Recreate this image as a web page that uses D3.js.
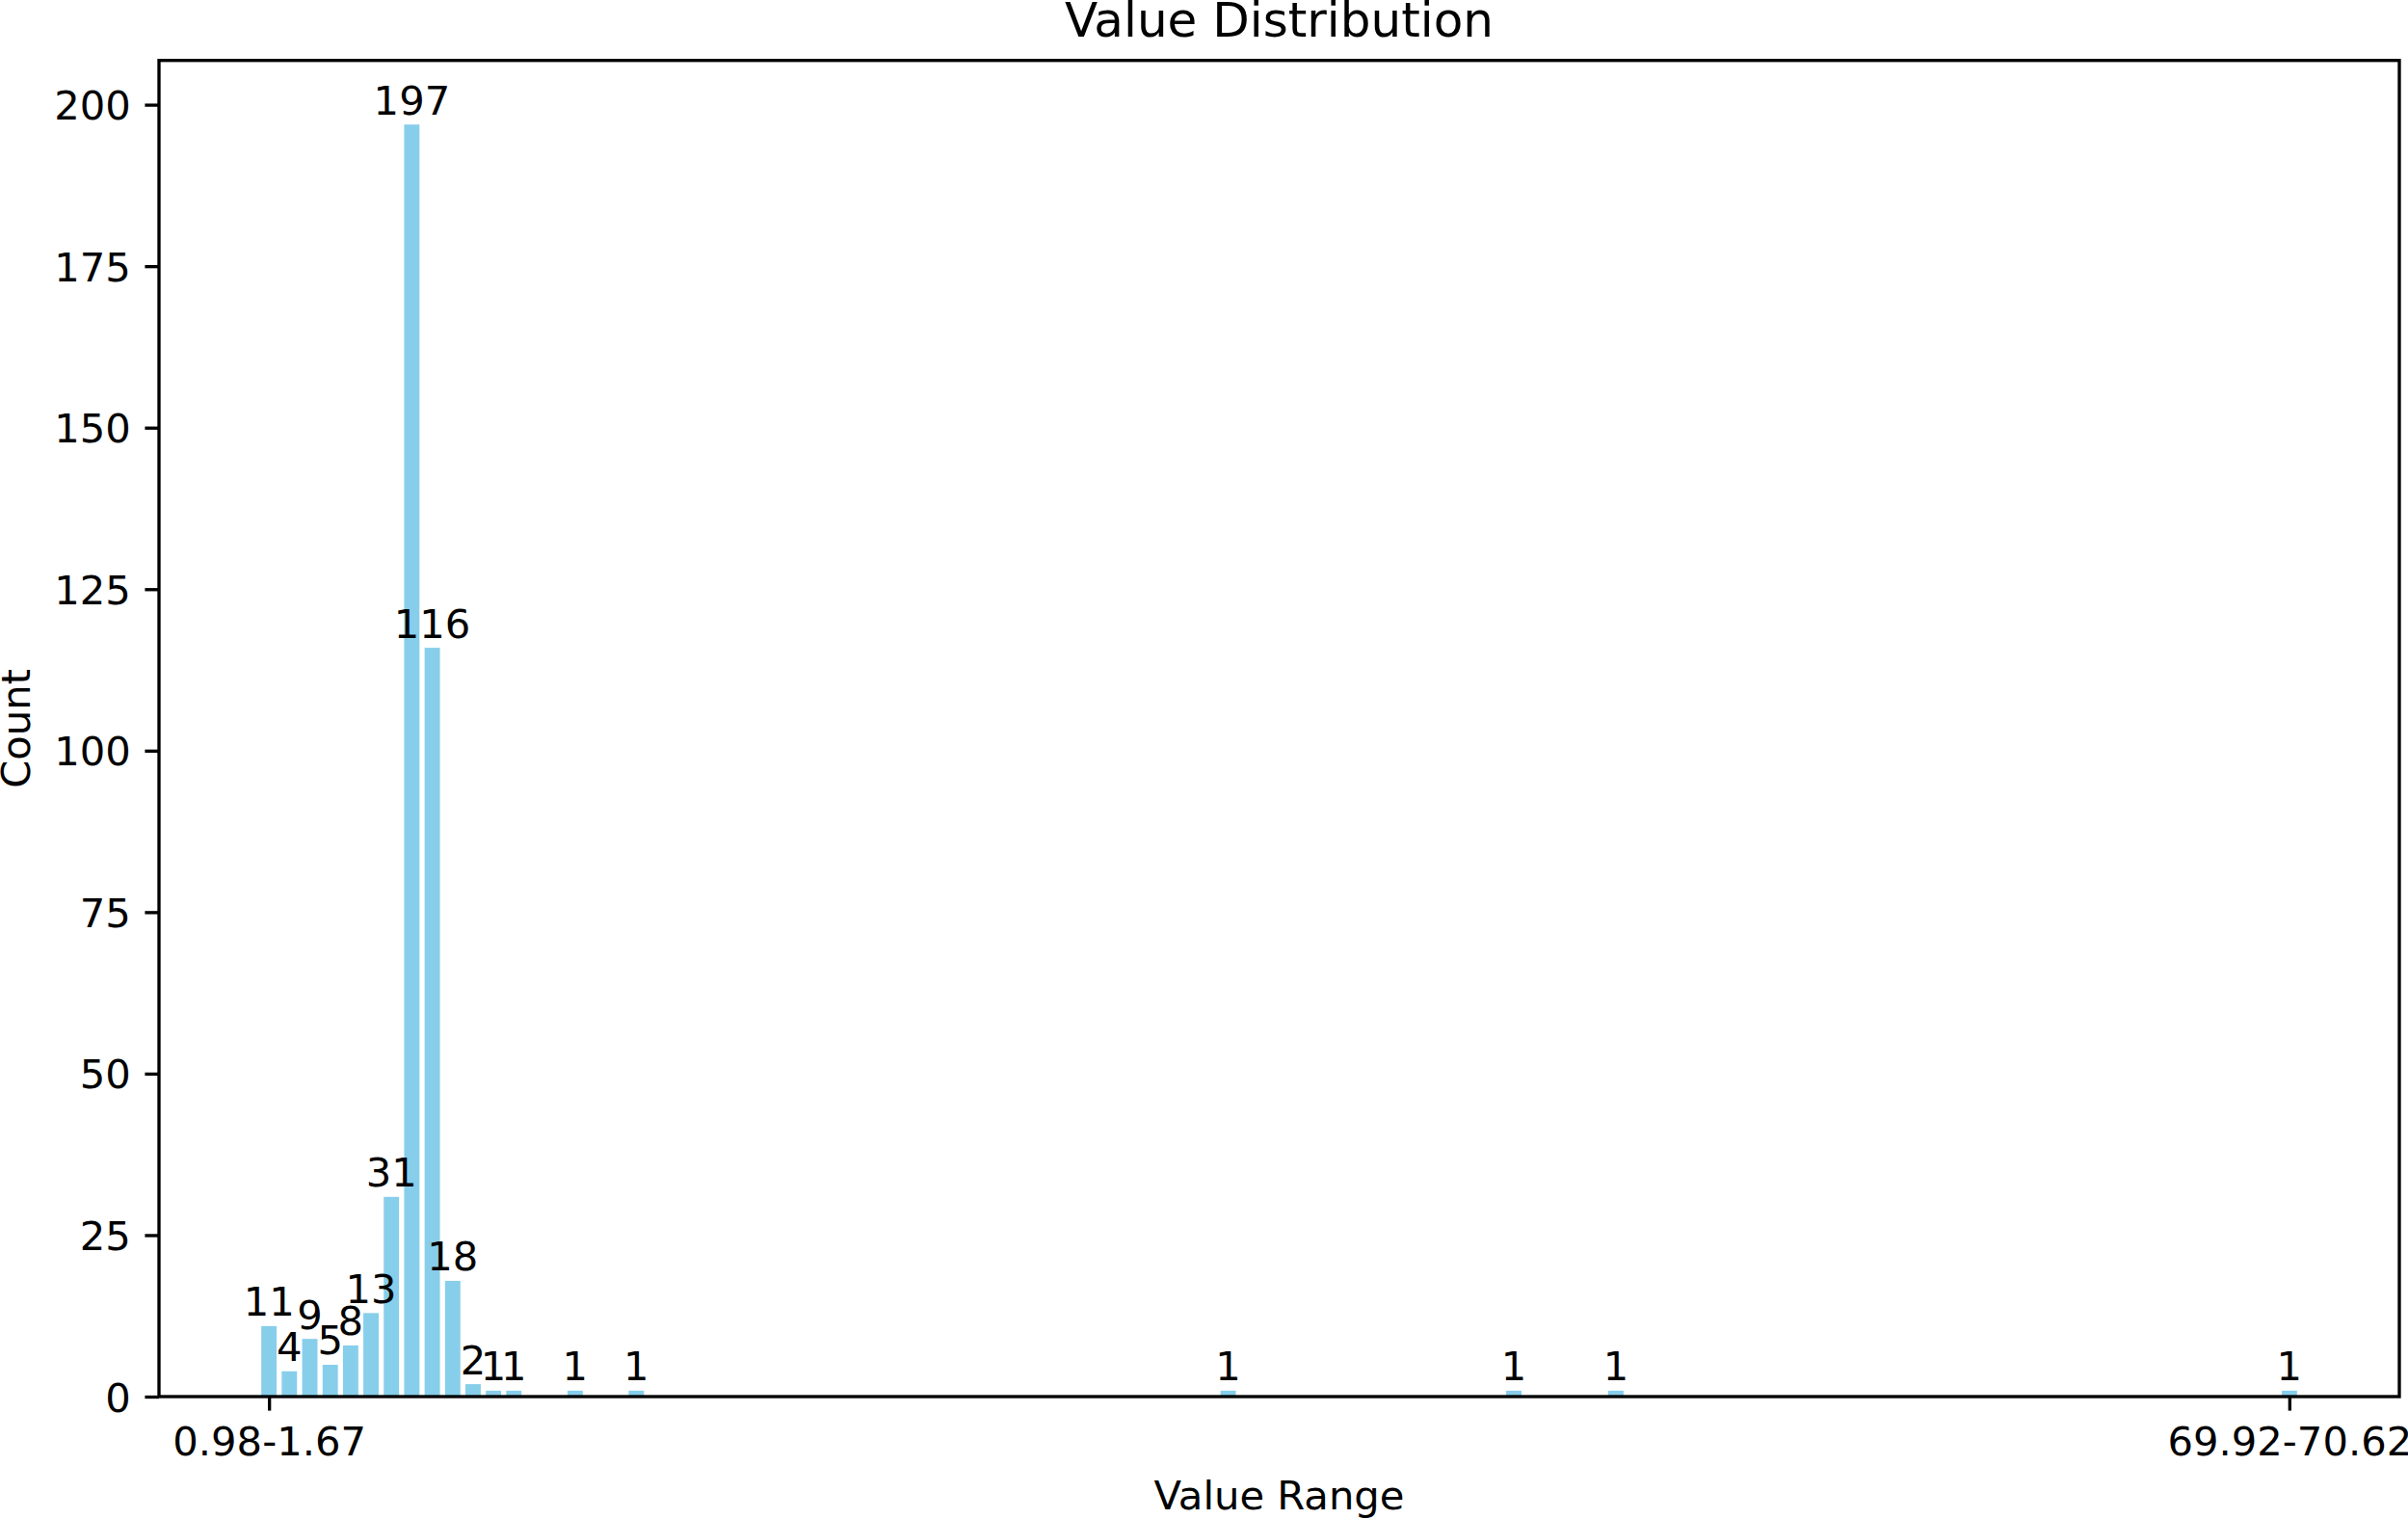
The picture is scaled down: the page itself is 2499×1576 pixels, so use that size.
<!DOCTYPE html>
<html>
<head>
<meta charset="utf-8">
<script src="https://cdn.jsdelivr.net/npm/d3@7"></script>
<style>
  html, body { margin: 0; padding: 0; background: #fff; }
  svg { display: block; font-family: "DejaVu Sans", sans-serif; }
</style>
</head>
<body>
<svg id="chart" width="2499" height="1576"></svg>
<script>
// bin index (0..99) of each non-empty bin and its count
const binIndex = [0, 1, 2, 3, 4, 5, 6, 7, 8, 9, 10, 11, 12, 15, 18, 47, 61, 66, 99];
const counts   = [11, 4, 9, 5, 8, 13, 31, 197, 116, 18, 2, 1, 1, 1, 1, 1, 1, 1, 1];
const xTickIndex = [0, 99];
const xTickLabels = ["0.98-1.67", "69.92-70.62"];
const yTicks = [0, 25, 50, 75, 100, 125, 150, 175, 200];

const svg = d3.select("#chart");
const plotLeft = 165, plotRight = 2490, plotTop = 62.7, plotBottom = 1449;
const fs = 41.7;           // 10pt at 300dpi
const lw = 3.33;           // 0.8pt
const tickLen = 14.6;

const barW = 0.8;
const lo = d3.min(binIndex) - barW / 2;
const hi = d3.max(binIndex) + barW / 2;
const pad = (hi - lo) * 0.05;
const x = d3.scaleLinear().domain([lo - pad, hi + pad]).range([plotLeft, plotRight]);
const y = d3.scaleLinear().domain([0, d3.max(counts) * 1.05]).range([plotBottom, plotTop]);

const data = binIndex.map((b, i) => ({ bin: b, count: counts[i] }));

// bars
svg.append("g")
  .selectAll("rect")
  .data(data)
  .join("rect")
  .attr("x", d => x(d.bin - barW / 2))
  .attr("width", d => x(barW) - x(0))
  .attr("y", d => y(d.count))
  .attr("height", d => y(0) - y(d.count))
  .attr("fill", "#87CEEB")
  .attr("stroke", "#ffffff")
  .attr("stroke-width", 1);

// bar labels
svg.append("g")
  .selectAll("text")
  .data(data)
  .join("text")
  .attr("x", d => x(d.bin))
  .attr("y", d => y(d.count) - 10)
  .attr("text-anchor", "middle")
  .attr("font-size", fs)
  .attr("fill", "#000")
  .text(d => d.count);

// axes
const yAxis = d3.axisLeft(y)
  .tickValues(yTicks)
  .tickSize(tickLen)
  .tickPadding(tickLen);
const gy = svg.append("g").attr("transform", `translate(${plotLeft},0)`).call(yAxis);

const xAxis = d3.axisBottom(x)
  .tickValues(xTickIndex)
  .tickFormat((d, i) => xTickLabels[i])
  .tickSize(tickLen)
  .tickPadding(tickLen);
const gx = svg.append("g").attr("transform", `translate(0,${plotBottom})`).call(xAxis);

[gx, gy].forEach(g => {
  g.select(".domain").remove();
  g.selectAll(".tick line").attr("stroke", "#000").attr("stroke-width", lw);
  g.selectAll(".tick text")
    .attr("font-size", fs)
    .attr("fill", "#000")
    .attr("font-family", "DejaVu Sans");
});
gy.selectAll(".tick text").attr("dy", "0.36em");
gx.selectAll(".tick text").attr("dy", "0.76em");

// frame
svg.append("rect")
  .attr("x", plotLeft).attr("y", plotTop)
  .attr("width", plotRight - plotLeft).attr("height", plotBottom - plotTop)
  .attr("fill", "none")
  .attr("stroke", "#000")
  .attr("stroke-width", lw);

// title and axis labels
svg.append("text")
  .attr("x", (plotLeft + plotRight) / 2).attr("y", plotTop - 25)
  .attr("text-anchor", "middle")
  .attr("font-size", 50)
  .text("Value Distribution");

svg.append("text")
  .attr("x", (plotLeft + plotRight) / 2).attr("y", 1566)
  .attr("text-anchor", "middle")
  .attr("font-size", fs)
  .text("Value Range");

svg.append("text")
  .attr("transform", `translate(31,${(plotTop + plotBottom) / 2}) rotate(-90)`)
  .attr("text-anchor", "middle")
  .attr("font-size", fs)
  .text("Count");
</script>
</body>
</html>
